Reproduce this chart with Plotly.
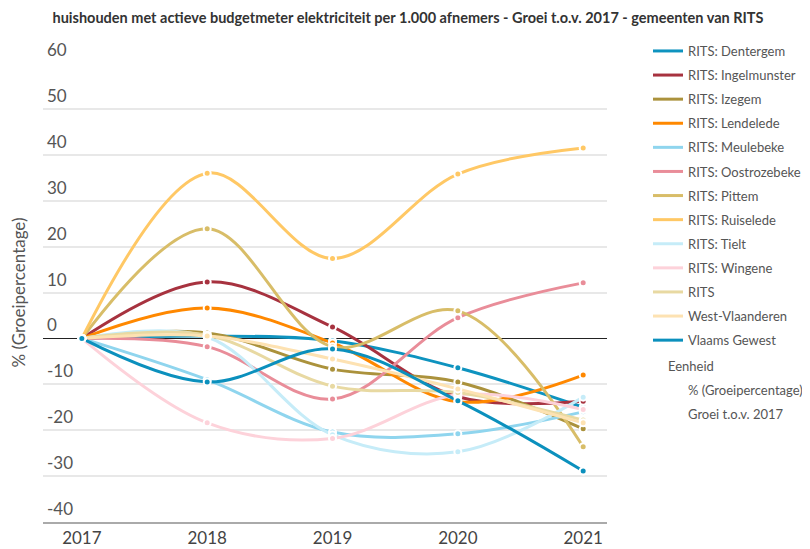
import plotly.graph_objects as go

years = ["2017", "2018", "2019", "2020", "2021"]

series_names = [
    "RITS: Dentergem", "RITS: Ingelmunster", "RITS: Izegem", "RITS: Lendelede",
    "RITS: Meulebeke", "RITS: Oostrozebeke", "RITS: Pittem", "RITS: Ruiselede",
    "RITS: Tielt", "RITS: Wingene", "RITS", "West-Vlaanderen", "Vlaams Gewest",
]

dentergem = [0, 0.5, -0.5, -6.4, -15.0]
ingelmunster = [0, 12.3, 2.5, -12.7, -13.7]
izegem = [0, 1.2, -6.7, -9.5, -19.7]
lendelede = [0, 6.6, -1.0, -13.8, -8.0]
meulebeke = [0, -9.0, -20.4, -20.8, -16.0]
oostrozebeke = [0, -1.8, -13.2, 4.5, 12.1]
pittem = [0, 23.9, -1.8, 6.0, -23.6]
ruiselede = [0, 36.0, 17.4, 35.8, 41.5]
tielt = [0, 0.3, -21.0, -24.7, -12.8]
wingene = [0, -18.4, -21.8, -12.3, -15.5]
rits = [0, 0.7, -10.4, -11.8, -17.8]
west_vlaanderen = [0, 0.5, -4.5, -11.0, -18.4]
vlaams_gewest = [0, -9.5, -2.3, -13.6, -28.9]

series_values = [dentergem, ingelmunster, izegem, lendelede, meulebeke, oostrozebeke,
                 pittem, ruiselede, tielt, wingene, rits, west_vlaanderen, vlaams_gewest]

colors = ["#0e93bf", "#a7323f", "#ab923c", "#ff8800", "#8fd5ee", "#e98d99",
          "#d8bd68", "#ffc865", "#c6ecf8", "#fdd2da", "#e8d9a2", "#fde2b2", "#0b90bd"]

y_ticks = [-40, -30, -20, -10, 0, 10, 20, 30, 40, 50, 60]

extra_legend = ["Eenheid", "% (Groeipercentage)", "Groei t.o.v. 2017"]

FONT = "Lato"
# the page body has an 8px default margin, so the figure is 16px smaller
W, H = 802, 541
T, B, L, R = 55, 27, 35, 203
PH = H - T - B
PW = W - L - R

fig = go.Figure()
for name, vals, col in zip(series_names, series_values, colors):
    fig.add_trace(go.Scatter(
        x=years, y=vals, name=name, mode="lines",
        line=dict(color=col, width=3, shape="spline", smoothing=1),
        legendgroup=name,
    ))
for name, vals, col in zip(series_names, series_values, colors):
    fig.add_trace(go.Scatter(
        x=years, y=vals, name=name, mode="markers", showlegend=False,
        marker=dict(color=col, size=7, line=dict(color="white", width=2)),
        legendgroup=name,
    ))

fig.update_layout(
    width=W, height=H,
    margin=dict(l=L, r=R, t=T, b=B, autoexpand=False),
    paper_bgcolor="white", plot_bgcolor="white",
    font=dict(family=FONT, color="#555555"),
    title=dict(
        text="<b>huishouden met actieve budgetmeter elektriciteit per 1.000 afnemers - Groei t.o.v. 2017 - gemeenten van RITS</b>",
        x=400 / W, xanchor="center", y=1 - 10 / H, yanchor="middle",
        font=dict(family=FONT, size=14.5, color="#333333"),
    ),
    showlegend=True,
    legend=dict(
        x=(640 - L) / PW, xanchor="left", y=1 + (T - 28) / PH, yanchor="top",
        font=dict(family=FONT, size=13, color="#555555"),
        tracegroupgap=4.2, traceorder="grouped", itemwidth=30, maxheight=520,
    ),
    xaxis=dict(
        type="category", range=[-0.31, 4.19], showgrid=False,
        showline=True, linecolor="#aaaaaa", linewidth=2,
        ticks="", ticklabelstandoff=0,
        tickfont=dict(family=FONT, size=17, color="#444444"),
        zeroline=False, fixedrange=True, automargin=False,
    ),
    yaxis=dict(
        range=[-40, 60], tickvals=y_ticks, showticklabels=False,
        showgrid=True, gridcolor="#e8e8e8", gridwidth=1.5,
        zeroline=True, zerolinecolor="#222222", zerolinewidth=1,
        showline=False, ticks="",
        title=dict(text="% (Groeipercentage)", standoff=25,
                   font=dict(family=FONT, size=17, color="#555555")),
        automargin=False, fixedrange=True,
    ),
)

for v in y_ticks:
    fig.add_annotation(
        text=str(v), xref="paper", yref="y", x=0, y=v,
        xanchor="left", yanchor="bottom", showarrow=False, xshift=2, yshift=1,
        font=dict(family=FONT, size=17, color="#555555"),
    )

leg_y = [358, 382, 406]
leg_x = [658, 678, 678]
for txt, py, px in zip(extra_legend, leg_y, leg_x):
    fig.add_annotation(
        text=txt, xref="paper", yref="paper",
        x=(px - L) / PW, y=1 - (py - T) / PH,
        xanchor="left", yanchor="middle", showarrow=False,
        font=dict(family=FONT, size=13, color="#555555"),
    )

fig.write_html("out.html")
